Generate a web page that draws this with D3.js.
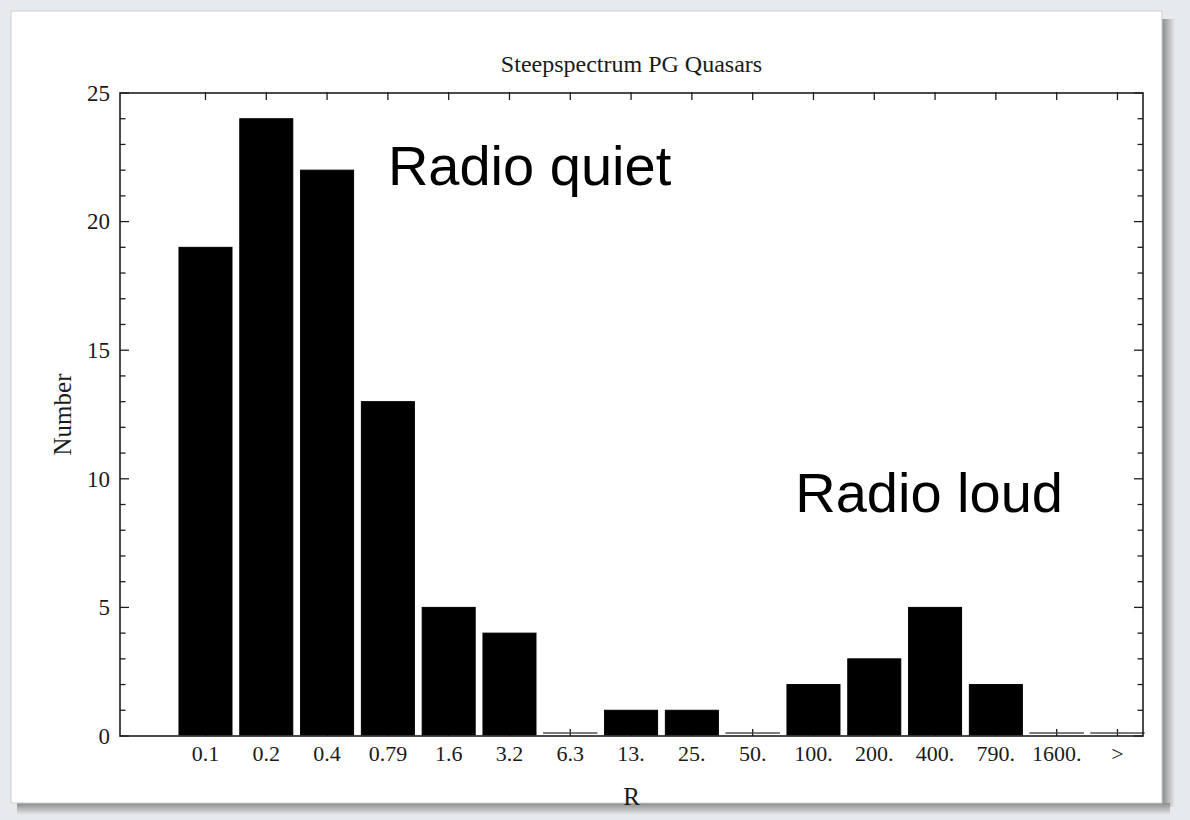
<!DOCTYPE html>
<html>
<head>
<meta charset="utf-8">
<script src="https://cdn.jsdelivr.net/npm/d3@7"></script>
<style>
  html, body { margin: 0; padding: 0; background: #e7eaed; }
  svg { display: block; }
</style>
</head>
<body>
<svg id="chart" width="1190" height="820"></svg>
<script>
// ---- data ----
const categories = ["0.1", "0.2", "0.4", "0.79", "1.6", "3.2", "6.3", "13.", "25.", "50.", "100.", "200.", "400.", "790.", "1600.", ">"];
const counts = [19, 24, 22, 13, 5, 4, 0, 1, 1, 0, 2, 3, 5, 2, 0, 0];
const yTicks = [0, 5, 10, 15, 20, 25];
const yMinorTicks = d3.range(0, 26, 1);
const title = "Steepspectrum PG Quasars";
const xLabel = "R";
const yLabel = "Number";
const annotations = [
  { text: "Radio quiet", cat: 3, value: 21.42 },
  { text: "Radio loud", cat: 9.7, value: 8.71 }
];

(function () {
const svg = d3.select("#chart");

// ---- card background with shadow ----
const defs = svg.append("defs");
const gR = defs.append("linearGradient").attr("id", "shR").attr("x1", 0).attr("x2", 1).attr("y1", 0).attr("y2", 0);
gR.append("stop").attr("offset", 0).attr("stop-color", "#8a8a8a");
gR.append("stop").attr("offset", 1).attr("stop-color", "#e7eaed");
const gB = defs.append("linearGradient").attr("id", "shB").attr("x1", 0).attr("x2", 0).attr("y1", 0).attr("y2", 1);
gB.append("stop").attr("offset", 0).attr("stop-color", "#8a8a8a");
gB.append("stop").attr("offset", 1).attr("stop-color", "#e7eaed");

const card = { x: 11, y: 11, w: 1151, h: 792 };
svg.append("rect").attr("x", card.x + card.w).attr("y", card.y + 8).attr("width", 13).attr("height", card.h - 4).attr("fill", "url(#shR)");
svg.append("rect").attr("x", card.x + 6).attr("y", card.y + card.h).attr("width", card.w + 2).attr("height", 12).attr("fill", "url(#shB)");
svg.append("rect").attr("x", card.x).attr("y", card.y).attr("width", card.w).attr("height", card.h)
  .attr("fill", "#ffffff").attr("stroke", "#c9cdd1").attr("stroke-width", 1);

// ---- plot geometry ----
const pL = 120, pR = 1143, pT = 93, pB = 736;
const x = d3.scaleLinear().domain([-1.406, 15.42]).range([pL, pR]);
const y = d3.scaleLinear().domain([0, 25]).range([pB, pT]);
const barHalf = 0.436;

const g = svg.append("g");
const axisColor = "#1e1e1e";

// bottom ticks (inward), drawn under the bars
categories.forEach((c, i) => {
  g.append("line").attr("x1", x(i)).attr("x2", x(i)).attr("y1", pB).attr("y2", pB - 7)
    .attr("stroke", axisColor).attr("stroke-width", 1.3);
});

// bars
g.selectAll("rect.bar").data(counts).enter().append("rect")
  .attr("class", "bar")
  .attr("x", (d, i) => x(i - barHalf))
  .attr("width", (d, i) => x(i + barHalf) - x(i - barHalf))
  .attr("y", d => d === 0 ? y(0) - 3 : y(d))
  .attr("height", d => d === 0 ? 0.01 : y(0) - y(d) - 1)
  .attr("fill", "#000")
  .attr("stroke", d => d === 0 ? "#444" : "#000")
  .attr("stroke-width", d => d === 0 ? 1.4 : 1);

// frame
g.append("rect").attr("x", pL).attr("y", pT).attr("width", pR - pL).attr("height", pB - pT)
  .attr("fill", "none").attr("stroke", axisColor).attr("stroke-width", 1.6);

// top ticks (inward)
categories.forEach((c, i) => {
  g.append("line").attr("x1", x(i)).attr("x2", x(i)).attr("y1", pT - 1).attr("y2", pT + 7)
    .attr("stroke", axisColor).attr("stroke-width", 1.3);
});

// left / right ticks
yMinorTicks.forEach(v => {
  const major = v % 5 === 0;
  const len = major ? 9 : 5.5;
  g.append("line").attr("x1", pL).attr("x2", pL + len).attr("y1", y(v)).attr("y2", y(v))
    .attr("stroke", axisColor).attr("stroke-width", 1.3);
  g.append("line").attr("x1", pR).attr("x2", pR - len).attr("y1", y(v)).attr("y2", y(v))
    .attr("stroke", axisColor).attr("stroke-width", 1.3);
});

const serif = "'Liberation Serif', 'DejaVu Serif', serif";
const textCol = "#1a1a1a";

// y tick labels
g.selectAll("text.ytl").data(yTicks).enter().append("text")
  .attr("class", "ytl")
  .attr("x", pL - 10).attr("y", d => y(d)).attr("dy", "0.34em")
  .attr("text-anchor", "end").attr("font-family", serif).attr("font-size", 23)
  .attr("fill", textCol).text(d => d);

// x tick labels
g.selectAll("text.xtl").data(categories).enter().append("text")
  .attr("class", "xtl")
  .attr("x", (d, i) => x(i)).attr("y", 761)
  .attr("text-anchor", "middle").attr("font-family", serif).attr("font-size", 22)
  .attr("fill", textCol).text(d => d);

// title
svg.append("text").attr("x", (pL + pR) / 2).attr("y", 72)
  .attr("text-anchor", "middle").attr("font-family", serif).attr("font-size", 24)
  .attr("fill", textCol).text(title);

// axis labels
svg.append("text").attr("x", (pL + pR) / 2).attr("y", 805)
  .attr("text-anchor", "middle").attr("font-family", serif).attr("font-size", 25)
  .attr("fill", textCol).text(xLabel);
svg.append("text").attr("transform", `translate(71, ${(pT + pB) / 2}) rotate(-90)`)
  .attr("text-anchor", "middle").attr("font-family", serif).attr("font-size", 25)
  .attr("fill", textCol).text(yLabel);

// annotations
svg.selectAll("text.ann").data(annotations).enter().append("text")
  .attr("class", "ann")
  .attr("x", d => x(d.cat))
  .attr("y", d => y(d.value))
  .attr("font-family", "'Liberation Sans', Arial, sans-serif").attr("font-size", 56)
  .attr("fill", "#000").text(d => d.text);
})();
</script>
</body>
</html>
